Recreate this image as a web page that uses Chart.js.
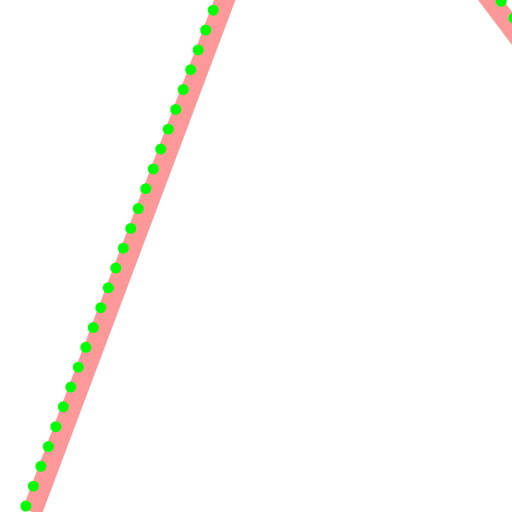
<!DOCTYPE html>
<html>
<head>
<meta charset="utf-8">
<script src="https://cdn.jsdelivr.net/npm/chart.js@4/dist/chart.umd.min.js"></script>
<style>
  html, body { margin: 0; padding: 0; background: #fff; }
  #wrap { width: 512px; height: 512px; }
</style>
</head>
<body>
<div id="wrap"><canvas id="zigzagChart" width="512" height="512"></canvas></div>
<script>
// values (the view is zoomed, axes are hidden)
var pinkX = [0, 5, 10];
var pinkValues = [0, 10, 5];

var greenX = [-0.11, 4.97, 10];
var greenValues = [0.08, 10.2, 5.17];

// visible window
var xRange = [-0.57, 8.53];
var yRange = [0, 6.85];

function toPoints(xs, ys) {
    var pts = [];
    for (var i = 0; i < xs.length; i++) {
        pts[i] = {x: xs[i], y: ys[i]};
    }
    return pts;
}

var config = {
    type: 'line',
    data: {
        datasets: [{label: 'pink',
                    data: toPoints(pinkX, pinkValues),
                    borderColor: 'rgba(255,0,0,0.4)',
                    borderWidth: 20,
                    pointRadius: 0,
                    fill: false,
                    tension: 0,
                    order: 1},
                   {label: 'green',
                    data: toPoints(greenX, greenValues),
                    borderColor: 'rgb(0,255,0)',
                    borderWidth: 11,
                    borderDash: [0, 21.2],
                    borderCapStyle: 'round',
                    pointRadius: 0,
                    fill: false,
                    tension: 0,
                    order: 0}]
    },
    options: {
        responsive: false,
        animation: false,
        layout: {padding: 0},
        scales: {
            x: {type: 'linear', display: false, min: xRange[0], max: xRange[1]},
            y: {type: 'linear', display: false, min: yRange[0], max: yRange[1]}
        },
        plugins: {
            legend: {display: false},
            tooltip: {enabled: false}
        }
    }
};

var ctx = document.getElementById("zigzagChart").getContext("2d");
window.myLine = new Chart(ctx, config);
</script>
</body>
</html>
